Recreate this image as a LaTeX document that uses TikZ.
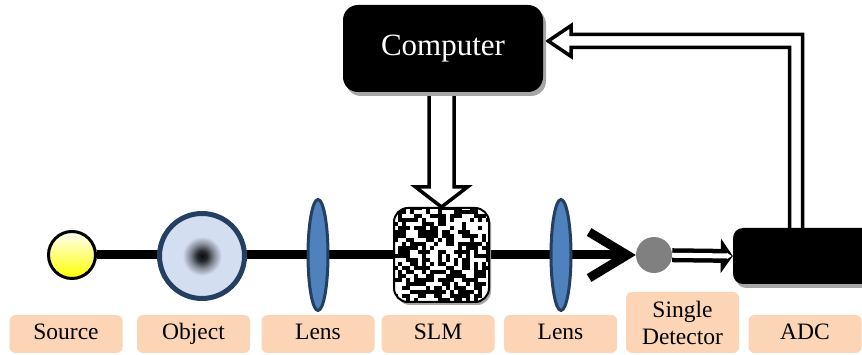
\documentclass[tikz,border=0pt]{standalone}
\usepackage{fontspec}
\setmainfont{Liberation Serif}
\usetikzlibrary{shapes.geometric,arrows.meta,calc,shadows}
\pgfdeclarelayer{bg}
\pgfsetlayers{bg,main}

\definecolor{peach}{HTML}{FBD5B5}
\definecolor{lensblue}{HTML}{4F81BD}
\definecolor{navy}{HTML}{243F60}
\definecolor{objblue}{HTML}{D3DEF1}
\definecolor{detgray}{HTML}{808080}

% blurred dark spot on a pale blue disc
\pgfdeclareradialshading{spot}{\pgfpoint{0bp}{0bp}}{%
  color(0bp)=(black!95);
  color(3bp)=(black!82!objblue);
  color(7bp)=(black!38!objblue);
  color(11.5bp)=(objblue);
  color(50bp)=(objblue)}

\tikzset{
  tagbase/.style={fill=peach, rounded corners=6pt, minimum width=113pt,
    inner sep=0pt, font=\fontsize{23.5}{27}\selectfont, align=center},
  tag/.style={tagbase, minimum height=38pt, text height=16pt, text depth=5.5pt},
  lens/.style={ellipse, draw=navy, line width=3pt, fill=lensblue,
    minimum width=20pt, minimum height=111pt, inner sep=0pt},
  blackbox/.style={fill=black, rounded corners=15pt, inner sep=0pt,
    general shadow={fill=black!35, shadow xshift=3pt, shadow yshift=-4pt}},
  beam/.style={line width=9pt},
  hollow/.style={draw=black, fill=white, line width=3.5pt, line join=miter},
}

\begin{document}
\begin{tikzpicture}[x=1pt,y=-1pt]
\useasboundingbox (0,0) rectangle (862,355);

% optical components
\node[circle, draw=black, line width=3pt, minimum size=47pt, inner sep=0pt,
      top color=white!96!yellow, bottom color=yellow] (src) at (72,255) {};
\node[circle, draw=navy, line width=5pt, minimum size=85pt, inner sep=0pt,
      shading=spot] (obj) at (202,256) {};
\node[lens] (l1) at (318,255) {};
\node[draw=black, line width=2pt, rounded corners=14pt, minimum width=95pt,
      minimum height=94pt, inner sep=0pt, fill=white,
      general shadow={fill=black!35, shadow xshift=2pt, shadow yshift=-3pt},
      path picture={
        \pgfmathsetseed{2718}
        \foreach \i in {0,...,23}{
          \foreach \j in {0,...,23}{
            \pgfmathparse{rnd}
            \ifdim\pgfmathresult pt<0.5pt
              \fill[black, sharp corners]
                ($(path picture bounding box.south west)+(\i*4pt,\j*4pt)$)
                rectangle ++(4pt,4pt);
            \fi
          }
        }
      }] (slm) at (441.5,255) {};
\node[lens] (l2) at (561,255) {};
\node[circle, fill=detgray, minimum size=36pt, inner sep=0pt] (det) at (654,255) {};

% electronics
\node[blackbox, minimum width=200pt, minimum height=87pt, text=white,
      font=\fontsize{31}{36}\selectfont] (cmp) at (443,48.5) {Computer};
\node[blackbox, rounded corners=10pt, minimum width=150pt, minimum height=56pt]
      (adc) at (808,256) {};

% labels
\node[tag] (tsrc) at (66,334) {Source};
\node[tag] (tobj) at (193.5,334) {Object};
\node[tag] (tl1) at (318,334) {Lens};
\node[tag] (tslm) at (438,334) {SLM};
\node[tag] (tl2) at (560.5,334) {Lens};
\node[tagbase, minimum height=61pt] (tdet) at (682.5,322.5) {Single\\Detector};
\node[tag] (tadc) at (805,334) {ADC};

% connectors
\coordinate (fbtip) at ($(cmp.east)+(5,-7.5)$);
\coordinate (fbcorner) at (796,41);
\begin{pgfonlayer}{bg}
  \draw[beam, -{Straight Barb[length=38pt,width=46pt]}] (src) -- (det.west);
  \draw[line width=14pt, -{Triangle[length=12pt,width=34pt]}] (det) -- (adc.west);
  \draw[white, line width=5pt, -{Triangle[length=5pt,width=6pt]}] (det) -- ($(adc.west)+(-1,0)$);
  \filldraw[hollow] ($(slm.north |- cmp.south)+(-12.5,-10)$)
    -- ($(slm.north)+(-12.5,-20)$) -- ($(slm.north)+(-26,-20)$)
    -- (slm.north)
    -- ($(slm.north)+(26,-20)$) -- ($(slm.north)+(12.5,-20)$)
    -- ($(slm.north |- cmp.south)+(12.5,-10)$);
  \filldraw[hollow] ($(fbcorner |- adc.north)+(-6.5,10)$)
    -- ($(fbcorner)+(-6.5,6.5)$) -- ($(fbtip)+(23,6.5)$) -- ($(fbtip)+(23,15.5)$)
    -- (fbtip)
    -- ($(fbtip)+(23,-15.5)$) -- ($(fbtip)+(23,-6.5)$)
    -- ($(fbcorner)+(6.5,-6.5)$) -- ($(fbcorner |- adc.north)+(6.5,10)$);
\end{pgfonlayer}
\end{tikzpicture}
\end{document}
